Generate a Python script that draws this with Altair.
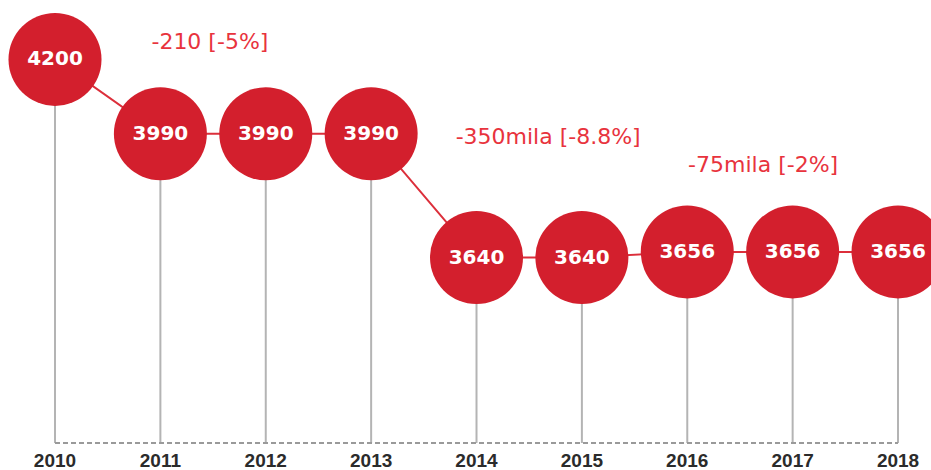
import altair as alt
import pandas as pd

years = [2010, 2011, 2012, 2013, 2014, 2015, 2016, 2017, 2018]
values = [4200, 3990, 3990, 3990, 3640, 3640, 3656, 3656, 3656]

ann_text = ["-210 [-5%]", "-350mila [-8.8%]", "-75mila [-2%]"]
ann_year = [2011.47, 2014.68, 2016.72]
ann_value = [4249, 3981, 3902]

df = pd.DataFrame({"year": years, "value": values, "label": [str(v) for v in values]})
ann = pd.DataFrame({"year": ann_year, "value": ann_value, "text": ann_text})

xs = alt.Scale(domain=[2009.478, 2018.313], nice=False, zero=False)
ys = alt.Scale(domain=[3039.7, 4367.8], nice=False, zero=False)
X = alt.X("year:Q", scale=xs, axis=None)
Y = alt.Y("value:Q", scale=ys, axis=None)

base = alt.Chart(df)

stems = base.mark_rule(color="#b4b4b4", strokeWidth=2).encode(
    x=X, y=Y, y2=alt.value(443)
)

baseline = alt.Chart(pd.DataFrame({"a": [years[0]], "b": [years[-1]]})).mark_rule(
    color="#9a9a9a", strokeWidth=2, strokeDash=[5, 3]
).encode(
    x=alt.X("a:Q", scale=xs, axis=None), x2="b:Q", y=alt.value(443)
)

line = base.mark_line(color="#dc2f3b", strokeWidth=2).encode(x=X, y=Y)

circles = base.mark_circle(size=8650, color="#d31f2d", opacity=1).encode(x=X, y=Y)

labels = base.mark_text(
    font="DejaVu Sans", fontWeight="bold", fontSize=20, color="white",
    align="center", baseline="middle"
).encode(x=X, y=Y, text="label:N")

year_labels = base.mark_text(
    font="Liberation Sans", fontWeight="bold", fontSize=19, color="#2b2b2b",
    align="center", baseline="middle"
).encode(x=X, y=alt.value(461), text="year:N")

notes = alt.Chart(ann).mark_text(
    font="DejaVu Sans", fontSize=22, color="#e8333d",
    align="center", baseline="middle"
).encode(x=X, y=Y, text="text:N")

chart = alt.layer(
    stems, baseline, line, circles, labels, year_labels, notes
).properties(
    width=931, height=470, padding=0, autosize=alt.AutoSizeParams(type="none")
).configure_view(stroke=None)

chart.save("out.html", embed_options={"renderer": "svg", "actions": False})
